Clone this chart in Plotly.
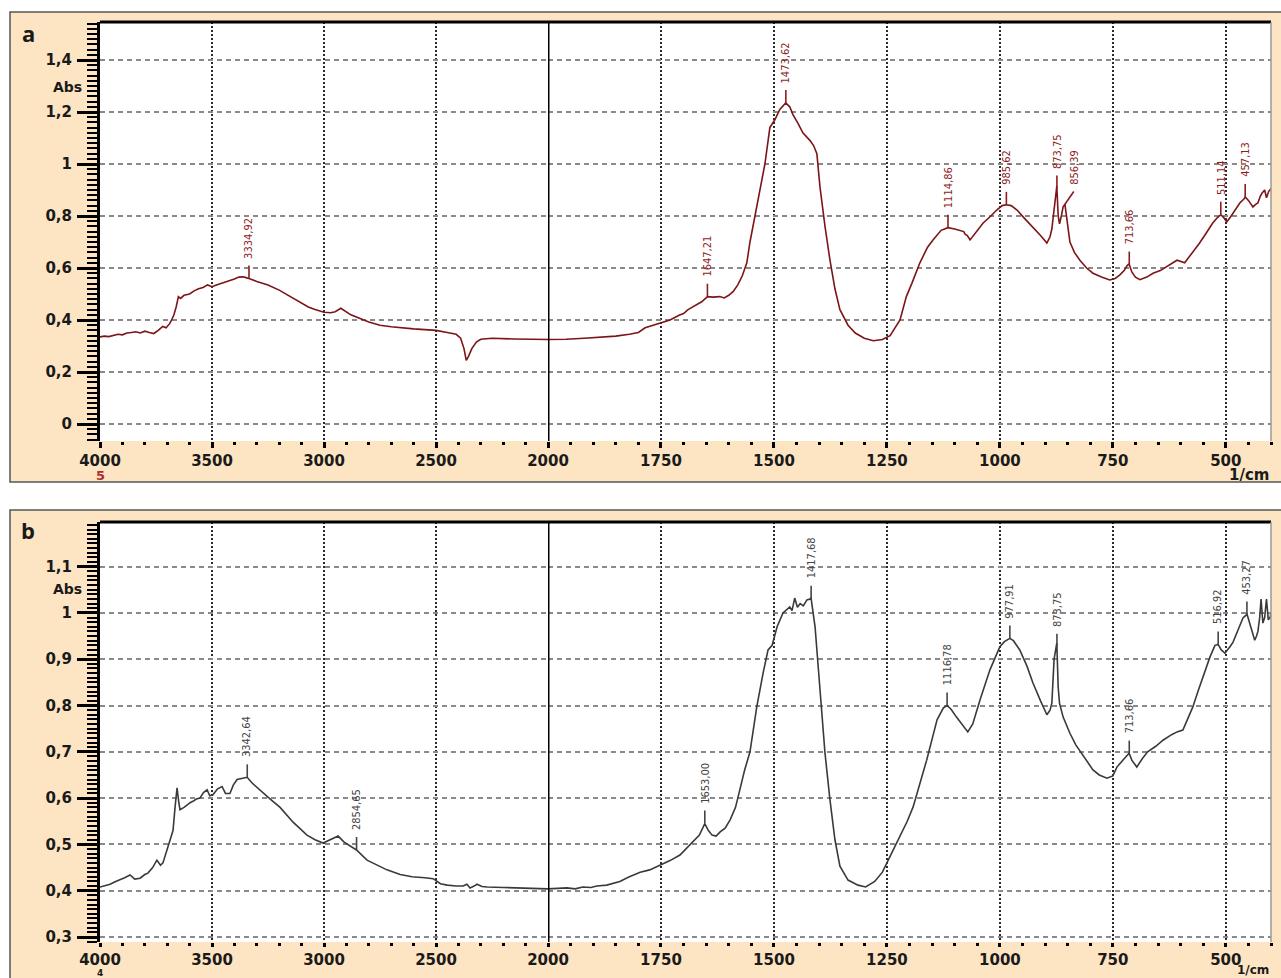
import numpy as np
import plotly.graph_objects as go

W, H = 1281, 978

# ---------------- spectrum a (wavenumber 1/cm, absorbance) ----------------
wn_a = [4000, 3980, 3960, 3940, 3920, 3900, 3880, 3860, 3840, 3820, 3800, 3780, 3760, 3740,
        3720, 3705, 3690, 3680, 3670, 3660, 3650, 3640, 3625, 3600, 3580, 3560, 3540, 3520,
        3500, 3480, 3460, 3440, 3420, 3400, 3380, 3360, 3345, 3335, 3300, 3250, 3200, 3150,
        3100, 3070, 3040, 3000, 2970, 2950, 2925, 2900, 2880, 2850, 2800, 2750, 2700, 2600,
        2500, 2450, 2410, 2390, 2375, 2365, 2355, 2340, 2320, 2300, 2250, 2150, 2000,
        1960, 1920, 1880, 1850, 1820, 1800, 1785, 1770, 1750, 1730, 1710, 1700, 1690, 1675,
        1660, 1650, 1647, 1635, 1620, 1610, 1600, 1590, 1580, 1570, 1560, 1553, 1538, 1520,
        1509, 1498, 1487, 1474, 1465, 1458, 1447, 1436, 1420, 1412, 1405, 1398, 1387, 1376, 1365,
        1354, 1336, 1320, 1300, 1280, 1260, 1243, 1221, 1207, 1195, 1177, 1160, 1148, 1130,
        1118, 1115, 1100, 1088, 1080, 1077, 1072, 1066, 1050, 1037, 1020, 1007, 995, 986,
        975, 962, 945, 927, 910, 896, 889, 885, 880, 876, 874, 871, 868, 864, 860, 856, 853,
        848, 845, 835, 823, 808, 794, 775, 757, 745, 735, 725, 718, 714, 708, 700, 690, 675,
        661, 645, 631, 620, 608, 591, 575, 558, 545, 529, 518, 511, 505, 498, 490, 484, 475,
        469, 460, 457, 450, 440, 434, 429, 424, 420, 414, 410, 405, 400]
abs_a = [0.335, 0.338, 0.336, 0.342, 0.345, 0.343, 0.350, 0.352, 0.355, 0.350, 0.357, 0.352,
         0.348, 0.360, 0.375, 0.370, 0.385, 0.400, 0.420, 0.450, 0.490, 0.483, 0.495, 0.500,
         0.512, 0.520, 0.525, 0.535, 0.528, 0.535, 0.540, 0.545, 0.552, 0.558, 0.565, 0.566,
         0.562, 0.560, 0.548, 0.535, 0.515, 0.490, 0.465, 0.450, 0.440, 0.430, 0.428, 0.432,
         0.445, 0.430, 0.420, 0.410, 0.392, 0.380, 0.374, 0.366, 0.360, 0.352, 0.345, 0.330,
         0.290, 0.245, 0.260, 0.290, 0.315, 0.326, 0.330, 0.327, 0.325,
         0.326, 0.330, 0.333, 0.338, 0.345, 0.352, 0.370, 0.378, 0.388, 0.400, 0.418, 0.425,
         0.440, 0.455, 0.470, 0.485, 0.490, 0.488, 0.490, 0.485, 0.495, 0.510, 0.535, 0.570,
         0.620, 0.700, 0.835, 1.000, 1.140, 1.170, 1.210, 1.235, 1.220, 1.190, 1.157, 1.120,
         1.090, 1.070, 1.040, 0.910, 0.760, 0.630, 0.520, 0.440, 0.380, 0.350, 0.330, 0.320, 0.325,
         0.340, 0.400, 0.490, 0.540, 0.620, 0.680, 0.708, 0.745, 0.753, 0.755, 0.750, 0.745,
         0.740, 0.730, 0.725, 0.708, 0.745, 0.773, 0.800, 0.823, 0.840, 0.843, 0.840, 0.823,
         0.790, 0.758, 0.725, 0.696, 0.720, 0.750, 0.820, 0.880, 0.915, 0.800, 0.770, 0.800,
         0.835, 0.845, 0.800, 0.740, 0.700, 0.660, 0.630, 0.600, 0.580, 0.565, 0.554, 0.560,
         0.573, 0.590, 0.610, 0.615, 0.585, 0.565, 0.555, 0.565, 0.580, 0.590, 0.604, 0.615,
         0.630, 0.620, 0.655, 0.696, 0.730, 0.773, 0.795, 0.805, 0.795, 0.777, 0.795, 0.810,
         0.835, 0.850, 0.865, 0.873, 0.860, 0.835, 0.845, 0.850, 0.875, 0.888, 0.900, 0.870,
         0.895, 0.905]
peaks_a = [3334.92, 1647.21, 1473.62, 1114.86, 985.62, 873.75, 856.39, 713.66, 511.14, 457.13]

# ---------------- spectrum b ----------------
wn_b = [4000, 3980, 3955, 3930, 3911, 3890, 3866, 3845, 3821, 3800, 3786, 3765, 3746, 3730,
        3719, 3700, 3688, 3674, 3665, 3656, 3648, 3643, 3625, 3612, 3598, 3585, 3570, 3554,
        3538, 3522, 3510, 3496, 3475, 3455, 3440, 3420, 3405, 3388, 3360, 3343, 3320, 3286,
        3240, 3196, 3138, 3076, 3040, 3004, 2970, 2937, 2910, 2880, 2855, 2808, 2760, 2719,
        2660, 2607, 2550, 2513, 2480, 2450, 2410, 2379, 2362, 2348, 2330, 2317, 2295, 2272,
        2200, 2138, 2060, 2000,
        1980, 1958, 1940, 1923, 1905, 1892, 1870, 1841, 1820, 1796, 1775, 1752, 1730, 1708,
        1690, 1675, 1665, 1653, 1645, 1637, 1628, 1619, 1608, 1597, 1585, 1575, 1565, 1553,
        1538, 1524, 1513, 1504, 1493, 1480, 1465, 1460, 1454, 1448, 1442, 1435, 1427, 1420,
        1418, 1409, 1403, 1394, 1387, 1376, 1365, 1354, 1336, 1314, 1297, 1277, 1260, 1240,
        1220, 1205, 1192, 1162, 1139, 1125, 1117, 1108, 1096, 1080, 1071, 1060, 1044, 1022,
        1000, 990, 982, 978, 970, 956, 940, 927, 910, 896, 889, 885, 880, 874, 871, 868, 860,
        845, 832, 819, 805, 794, 780, 763, 750, 741, 725, 714, 708, 697, 685, 673, 655, 639,
        620, 608, 595, 585, 573, 560, 551, 535, 524, 517, 510, 502, 490, 484, 470, 462, 453,
        445, 436, 432, 429, 425, 422, 418, 414, 410, 406, 402, 400]
abs_b = [0.408, 0.410, 0.414, 0.420, 0.423, 0.428, 0.434, 0.425, 0.427, 0.435, 0.438, 0.450,
         0.466, 0.455, 0.460, 0.490, 0.510, 0.530, 0.580, 0.622, 0.590, 0.575, 0.580, 0.585,
         0.590, 0.593, 0.598, 0.600, 0.612, 0.618, 0.605, 0.607, 0.620, 0.625, 0.610, 0.610,
         0.628, 0.640, 0.643, 0.645, 0.632, 0.617, 0.598, 0.580, 0.548, 0.520, 0.510, 0.503,
         0.510, 0.518, 0.505, 0.495, 0.488, 0.466, 0.455, 0.445, 0.435, 0.430, 0.428, 0.426,
         0.415, 0.412, 0.410, 0.410, 0.414, 0.406, 0.410, 0.414, 0.409, 0.408, 0.407, 0.406,
         0.405, 0.404,
         0.405, 0.406, 0.404, 0.408, 0.407, 0.410, 0.412, 0.420, 0.430, 0.440, 0.445, 0.455,
         0.465, 0.477, 0.495, 0.510, 0.520, 0.545, 0.530, 0.520, 0.518, 0.527, 0.535, 0.553,
         0.580, 0.620, 0.660, 0.700, 0.797, 0.870, 0.920, 0.930, 0.970, 1.000, 1.013, 1.005,
         1.032, 1.012, 1.020, 1.015, 1.028, 1.030, 1.033, 0.970, 0.898, 0.797, 0.697, 0.596,
         0.510, 0.453, 0.423, 0.412, 0.408, 0.420, 0.440, 0.480, 0.520, 0.550, 0.581, 0.682,
         0.769, 0.795, 0.800, 0.792, 0.775, 0.755, 0.743, 0.760, 0.812, 0.877, 0.927, 0.938,
         0.944, 0.945, 0.940, 0.920, 0.885, 0.849, 0.810, 0.780, 0.790, 0.805, 0.900, 0.935,
         0.840, 0.805, 0.775, 0.740, 0.715, 0.697, 0.675, 0.661, 0.650, 0.643, 0.648, 0.667,
         0.685, 0.697, 0.682, 0.667, 0.685, 0.700, 0.712, 0.725, 0.737, 0.743, 0.747, 0.770,
         0.797, 0.835, 0.862, 0.905, 0.930, 0.932, 0.920, 0.913, 0.928, 0.937, 0.970, 0.989,
         0.997, 0.970, 0.941, 0.950, 0.960, 0.990, 1.030, 0.978, 0.990, 1.030, 0.985, 0.990,
         1.000]
peaks_b = [3342.64, 2854.65, 1653.00, 1417.68, 1116.78, 977.91, 873.75, 713.66, 516.92, 453.27]

# axis ticks
xticks_left = [4000, 3500, 3000, 2500]
xticks_right = [2000, 1750, 1500, 1250, 1000, 750, 500]
yticks_a = [0, 0.2, 0.4, 0.6, 0.8, 1.0, 1.2, 1.4]
yticks_b = [0.3, 0.4, 0.5, 0.6, 0.7, 0.8, 0.9, 1.0, 1.1]

RED = "#7c1518"
RED_TXT = "#8e1c1e"
GRAY = "#3a3a3a"
BEIGE = "#fde5c3"

# pixel layout helpers
def px(x):
    return x / W

def py(y):
    return 1 - y / H

X_L0, X_MID, X_R1 = 100, 548, 1271
A_TOP, A_BOT = 22, 441
B_TOP, B_BOT = 522, 942

fig = go.Figure()


def split(wn, ab):
    wn = np.asarray(wn, float)
    ab = np.asarray(ab, float)
    left = wn >= 2000
    right = wn <= 2000
    return (wn[left], ab[left]), (wn[right], ab[right])


for (wn, ab, color, xl, xr, ya) in [
    (wn_a, abs_a, RED, "x", "x2", "y"),
    (wn_b, abs_b, GRAY, "x3", "x4", "y2"),
]:
    (wl, al), (wr, ar) = split(wn, ab)
    fig.add_trace(go.Scatter(x=wl, y=al, xaxis=xl, yaxis=ya, mode="lines",
                             line=dict(color=color, width=1.6), showlegend=False,
                             hoverinfo="skip"))
    fig.add_trace(go.Scatter(x=wr, y=ar, xaxis=xr, yaxis=ya, mode="lines",
                             line=dict(color=color, width=1.6), showlegend=False,
                             hoverinfo="skip"))

annotations = []
leaders = []
LABEL_FONT = "Liberation Sans Narrow, DejaVu Sans Condensed, Arial Narrow, sans-serif"
LEADER = 13  # leader length in pixels


def peak_labels(peaks, wn, ab, xl, xr, ya, color):
    wn_s = np.asarray(wn, float)[::-1]
    ab_s = np.asarray(ab, float)[::-1]
    for p in peaks:
        yv = float(np.interp(p, wn_s, ab_s))
        label = f"{p:.2f}".replace(".", ",")
        dx = 9 if abs(p - 856.39) < 0.01 else 0
        xref = xl if p >= 2000 else xr
        # leader line, sized in pixels above the peak
        leaders.append(dict(type="line", xref=xref, yref=ya,
                            xsizemode="pixel", xanchor=p, x0=0, x1=dx,
                            ysizemode="pixel", yanchor=yv, y0=0, y1=LEADER,
                            line=dict(color=color, width=1.6)))
        annotations.append(dict(
            x=p, y=yv, xref=xref, yref=ya,
            text=label, textangle=-90, showarrow=False,
            xanchor="center", yanchor="bottom", xshift=dx, yshift=LEADER + 5,
            font=dict(family=LABEL_FONT, size=11, color=color),
        ))


peak_labels(peaks_a, wn_a, abs_a, "x", "x2", "y", RED_TXT)
peak_labels(peaks_b, wn_b, abs_b, "x3", "x4", "y2", "#444444")

TICK_FONT = dict(family="DejaVu Sans", size=15, color="#1a1a1a", weight="bold")


def text(x, y, s, size=15, color="#1a1a1a", xanchor="center", family="DejaVu Sans"):
    annotations.append(dict(x=px(x), y=py(y), xref="paper", yref="paper", text=s,
                            showarrow=False, xanchor=xanchor, yanchor="middle",
                            font=dict(family=family, size=size, color=color, weight="bold")))


text(28, 33, "a", size=22, family="Open Sans")
text(28, 530, "b", size=22, family="Open Sans")
text(67, 87, "Abs", size=14)
text(67, 589, "Abs", size=14)
text(100, 476, "5", size=13, color="#b03030")
text(100, 973, "4", size=9)
text(1271, 475, "1/cm", size=15, xanchor="right")
text(1271, 970, "1/cm", size=12, xanchor="right")

shapes = [
    # beige panels
    dict(type="rect", xref="paper", yref="paper", x0=px(10), x1=px(1290), y0=py(482), y1=py(12),
         fillcolor=BEIGE, line=dict(color="#555555", width=1.5), layer="below"),
    dict(type="rect", xref="paper", yref="paper", x0=px(10), x1=px(1290), y0=py(990), y1=py(510),
         fillcolor=BEIGE, line=dict(color="#555555", width=1.5), layer="below"),
    # white plotting areas
    dict(type="rect", xref="paper", yref="paper", x0=px(X_L0), x1=px(X_R1), y0=py(A_BOT), y1=py(A_TOP),
         fillcolor="white", line=dict(width=0), layer="below"),
    dict(type="rect", xref="paper", yref="paper", x0=px(X_L0), x1=px(X_R1), y0=py(B_BOT), y1=py(B_TOP),
         fillcolor="white", line=dict(width=0), layer="below"),
] + leaders
for top, bot, xr in [(A_TOP, A_BOT, "x2"), (B_TOP, B_BOT, "x4")]:
    # top frame
    shapes.append(dict(type="line", xref="paper", yref="paper", x0=px(X_L0), x1=px(X_R1),
                       y0=py(top), y1=py(top), line=dict(color="black", width=3)))
    # right frame
    shapes.append(dict(type="line", xref="paper", yref="paper", x0=px(X_R1), x1=px(X_R1),
                       y0=py(bot), y1=py(top), line=dict(color="#9a9a9a", width=1.5)))
    # divider at 2000 1/cm
    shapes.append(dict(type="line", xref=xr, yref="paper", x0=2000, x1=2000,
                       y0=py(bot), y1=py(top), line=dict(color="black", width=3)))

GRID_X = dict(showgrid=True, gridcolor="#2a2a2a", gridwidth=1.6, griddash="2px,2px",
              ticks="outside", tickwidth=2.5, tickcolor="black",
              showline=False, zeroline=False, tickfont=TICK_FONT, tickmode="array",
              ticklabelstandoff=0, automargin=False)
GRID_Y = dict(showgrid=True, gridcolor="#8a8a8a", gridwidth=1.5, griddash="5px,4px",
              ticks="outside", ticklen=20, tickwidth=2.5, tickcolor="black",
              showline=True, linecolor="black", linewidth=3, zeroline=False,
              tickfont=TICK_FONT, tickmode="array", ticklabelstandoff=2, automargin=False)

layout_axes = {}
for name, rng, dom, anchor, ticks, mdt, tl in [
    ("xaxis", [4000, 2000], [px(X_L0), px(X_MID)], "y", xticks_left, 100, 6),
    ("xaxis2", [2000, 400], [px(X_MID), px(X_R1)], "y", xticks_right, 50, 6),
    ("xaxis3", [4000, 2000], [px(X_L0), px(X_MID)], "y2", xticks_left, 100, 4),
    ("xaxis4", [2000, 400], [px(X_MID), px(X_R1)], "y2", xticks_right, 50, 4),
]:
    layout_axes[name] = dict(GRID_X, range=rng, domain=dom, anchor=anchor, ticklen=tl,
                             tickvals=ticks, ticktext=[str(t) for t in ticks],
                             minor=dict(dtick=mdt, tick0=0, ticks="outside", ticklen=3,
                                        tickwidth=2.5, tickcolor="black", showgrid=False))

ya_lo = (424 - A_BOT) / 260
ya_hi = (424 - A_TOP) / 260
yb_lo = 0.3 + (937 - B_BOT) / 463
yb_hi = 0.3 + (937 - B_TOP) / 463
layout_axes["yaxis"] = dict(GRID_Y, range=[ya_lo, ya_hi], domain=[py(A_BOT), py(A_TOP)],
                            anchor="x", tickvals=yticks_a,
                            minor=dict(dtick=0.02, tick0=0, ticks="outside", ticklen=10,
                                       tickwidth=2, tickcolor="black", showgrid=False))
layout_axes["yaxis2"] = dict(GRID_Y, range=[yb_lo, yb_hi], domain=[py(B_BOT), py(B_TOP)],
                             anchor="x3", tickvals=yticks_b,
                             minor=dict(dtick=0.01, tick0=0, ticks="outside", ticklen=10,
                                        tickwidth=2, tickcolor="black", showgrid=False))

fig.update_layout(
    width=W, height=H,
    margin=dict(l=0, r=0, t=0, b=0),
    paper_bgcolor="white",
    plot_bgcolor="rgba(0,0,0,0)",
    separators=", ",
    showlegend=False,
    annotations=annotations,
    shapes=shapes,
    **layout_axes,
)

fig.write_html("out.html")
